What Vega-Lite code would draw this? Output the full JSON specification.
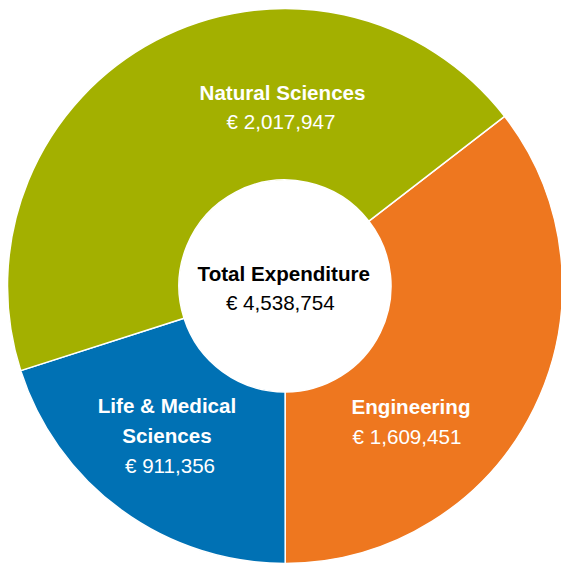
{
  "$schema": "https://vega.github.io/schema/vega-lite/v6.json",
  "width": 552,
  "height": 556,
  "autosize": {"type": "none"},
  "padding": {"left": 9, "top": 8, "right": 0, "bottom": 0},
  "background": "white",
  "config": {"view": {"stroke": null}, "text": {"font": "Liberation Sans", "fontSize": 20.6, "align": "center", "baseline": "alphabetic"}},
  "data": {
    "values": [
      {"category": "Engineering", "amount": 1609451, "rank": 1},
      {"category": "Life & Medical Sciences", "amount": 911356, "rank": 2},
      {"category": "Natural Sciences", "amount": 2017947, "rank": 3}
    ]
  },
  "transform": [
    {"calculate": "'€ ' + format(datum.amount, ',')", "as": "amountLabel"}
  ],
  "layer": [
    {
      "mark": {"type": "arc", "radius": 277.5, "radius2": 106, "stroke": "white", "strokeWidth": 1.5},
      "encoding": {
        "theta": {"field": "amount", "type": "quantitative", "stack": true, "scale": {"range": [0.9128, 7.1960]}},
        "order": {"field": "rank", "type": "quantitative"},
        "color": {
          "field": "category", "type": "nominal",
          "scale": {"domain": ["Engineering", "Life & Medical Sciences", "Natural Sciences"], "range": ["#EE771F", "#0071B4", "#A3B000"]},
          "legend": null
        }
      }
    },
    {
      "transform": [{"filter": "datum.category == 'Natural Sciences'"}],
      "mark": {"type": "text", "fontWeight": "bold", "fill": "white", "dx": -2.5, "dy": -186},
      "encoding": {"text": {"field": "category"}}
    },
    {
      "transform": [{"filter": "datum.category == 'Natural Sciences'"}],
      "mark": {"type": "text", "fill": "white", "dx": -4, "dy": -157},
      "encoding": {"text": {"field": "amountLabel"}}
    },
    {
      "transform": [{"filter": "datum.category == 'Engineering'"}],
      "mark": {"type": "text", "fontWeight": "bold", "fill": "white", "dx": 126, "dy": 128.3},
      "encoding": {"text": {"field": "category"}}
    },
    {
      "transform": [{"filter": "datum.category == 'Engineering'"}],
      "mark": {"type": "text", "fill": "white", "dx": 122, "dy": 158},
      "encoding": {"text": {"field": "amountLabel"}}
    },
    {
      "transform": [
        {"filter": "datum.category == 'Life & Medical Sciences'"},
        {"calculate": "replace(datum.category, ' Sciences', '|Sciences')", "as": "wrapped"}
      ],
      "mark": {"type": "text", "fontWeight": "bold", "fill": "white", "dx": -118, "dy": 127.3, "lineBreak": "|", "lineHeight": 29.4},
      "encoding": {"text": {"field": "wrapped"}}
    },
    {
      "transform": [{"filter": "datum.category == 'Life & Medical Sciences'"}],
      "mark": {"type": "text", "fill": "white", "dx": -115, "dy": 186.7},
      "encoding": {"text": {"field": "amountLabel"}}
    },
    {
      "transform": [
        {"aggregate": [{"op": "sum", "field": "amount", "as": "total"}]},
        {"calculate": "'Total Expenditure'", "as": "title"}
      ],
      "mark": {"type": "text", "fontWeight": "bold", "fill": "black", "dx": -1.2, "dy": -5},
      "encoding": {"text": {"field": "title"}}
    },
    {
      "transform": [
        {"aggregate": [{"op": "sum", "field": "amount", "as": "total"}]},
        {"calculate": "'€ ' + format(datum.total, ',')", "as": "totalLabel"}
      ],
      "mark": {"type": "text", "fill": "black", "dx": -4.7, "dy": 24},
      "encoding": {"text": {"field": "totalLabel"}}
    }
  ]
}
